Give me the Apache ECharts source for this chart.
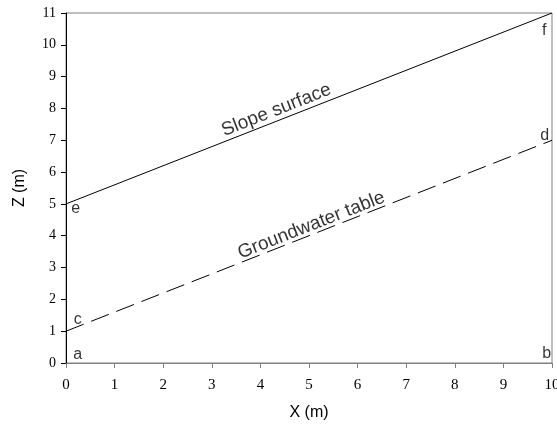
<!DOCTYPE html>
<html>
<head>
<meta charset="utf-8">
<script src="https://cdn.jsdelivr.net/npm/echarts@6/dist/echarts.min.js"></script>
<style>
  html, body { margin: 0; padding: 0; background: #fff; }
  #chart { width: 557px; height: 428px; }
</style>
</head>
<body>
<div id="chart"></div>
<script>
// Slope geometry: ground surface and water table along the section
const slopeX = [0, 10];
const slopeZ = [5, 11];
const waterX = [0, 10];
const waterZ = [1, 7];

// Corner point letters and their anchor positions (data units)
const pointNames = ['a', 'b', 'c', 'd', 'e', 'f'];
const pointX = [0.24, 9.89, 0.24, 9.85, 0.2, 9.84];
const pointZ = [0.27, 0.3, 1.36, 7.15, 4.85, 10.46];

// Line captions placed along each line
const captionNames = ['Slope surface', 'Groundwater table'];
const captionX = [4.33, 5.05];
const captionZ = [7.95, 4.33];

const chart = echarts.init(document.getElementById('chart'));

const serif = '"Liberation Serif", "Times New Roman", serif';
const sans = '"Liberation Sans", Arial, sans-serif';

// Angle of both parallel lines in screen space
function lineAngle() {
  const p0 = chart.convertToPixel({ gridIndex: 0 }, [slopeX[0], slopeZ[0]]);
  const p1 = chart.convertToPixel({ gridIndex: 0 }, [slopeX[1], slopeZ[1]]);
  return Math.atan2(p0[1] - p1[1], p1[0] - p0[0]) * 180 / Math.PI;
}

const option = {
  animation: false,
  grid: {
    left: 66, right: 5, top: 13, bottom: 65,
    containLabel: false, outerBoundsMode: 'none',
    show: true, borderColor: '#808080', borderWidth: 1
  },
  xAxis: {
    type: 'value', min: 0, max: 10, interval: 1,
    name: 'X (m)', nameLocation: 'middle', nameGap: 42,
    nameTextStyle: { fontFamily: sans, fontSize: 16, color: '#000' },
    axisLine: { show: true, lineStyle: { color: '#808080', width: 1 } },
    axisTick: { show: true, length: 5, lineStyle: { color: '#808080' } },
    axisLabel: { fontFamily: serif, fontSize: 15, color: '#000', margin: 15 },
    splitLine: { show: false }
  },
  yAxis: {
    type: 'value', min: 0, max: 11, interval: 1,
    name: 'Z (m)', nameLocation: 'middle', nameGap: 38, nameRotate: 90,
    nameTextStyle: { fontFamily: sans, fontSize: 16, color: '#000' },
    axisLine: { show: true, lineStyle: { color: '#000', width: 1 } },
    axisTick: { show: true, length: 5, lineStyle: { color: '#000' } },
    axisLabel: { fontFamily: serif, fontSize: 14, color: '#000', margin: 10 },
    splitLine: { show: false }
  },
  series: [
    {
      name: 'Slope surface', type: 'line', symbol: 'none',
      data: slopeX.map((x, i) => [x, slopeZ[i]]),
      lineStyle: { color: '#000', width: 1 }
    },
    {
      name: 'Groundwater table', type: 'line', symbol: 'none',
      data: waterX.map((x, i) => [x, waterZ[i]]),
      lineStyle: { color: '#000', width: 1, type: [19, 8] }
    },
    {
      name: 'points', type: 'scatter', symbolSize: 0,
      data: pointNames.map((n, i) => ({ name: n, value: [pointX[i], pointZ[i]] })),
      label: {
        show: true, position: 'inside', formatter: '{b}',
        fontFamily: sans, fontSize: 16, color: '#000', textBorderWidth: 0
      },
      silent: true
    },
    {
      name: 'captions', type: 'scatter', symbolSize: 0,
      data: captionNames.map((n, i) => ({ name: n, value: [captionX[i], captionZ[i]] })),
      label: {
        show: true, position: 'inside', formatter: '{b}',
        fontFamily: sans, fontSize: 19, color: '#000', textBorderWidth: 0, rotate: 0
      },
      silent: true
    }
  ]
};

chart.setOption(option);
chart.setOption({ series: [{}, {}, {}, { label: { rotate: lineAngle() } }] });
</script>
</body>
</html>
